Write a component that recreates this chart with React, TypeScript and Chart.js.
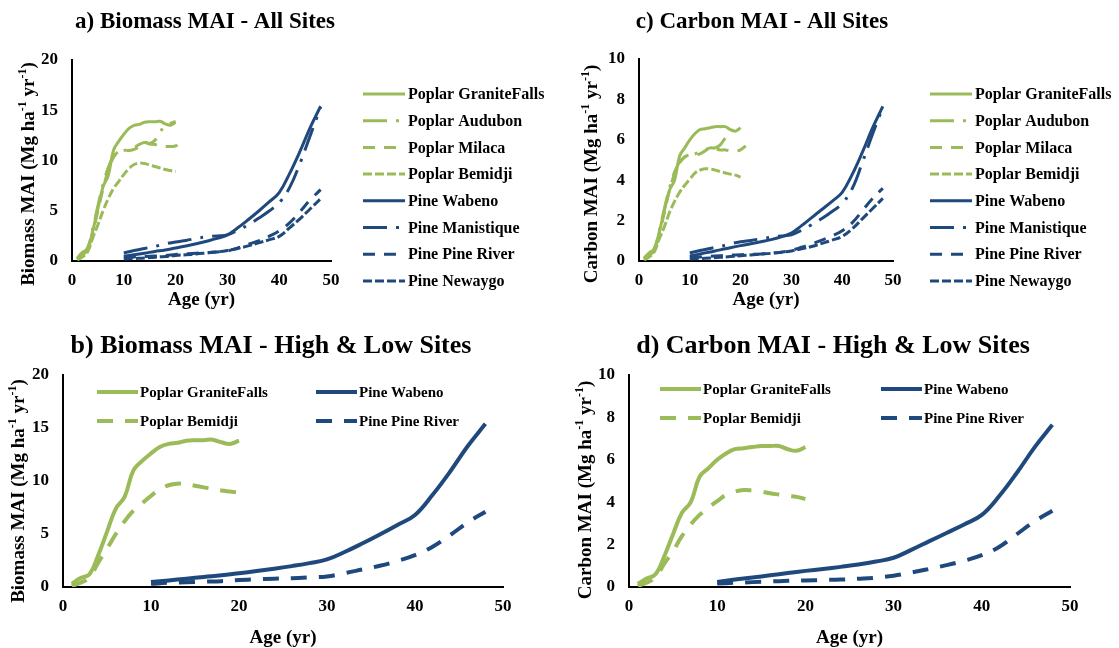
import React, { useEffect, useRef } from 'react';
import { Chart, registerables } from 'chart.js';

Chart.register(...registerables);

const GREEN = '#9BBB59';
const BLUE = '#1F497D';
const FONT = '"Liberation Serif", "Times New Roman", serif';

// ---------- data ----------
const poplarAges = [1, 2, 3, 4, 5, 6, 7, 8, 9, 10, 11, 12, 13, 14, 15, 16, 17, 18, 19, 20];
const milacaAges = [1, 2, 3, 4, 5, 6, 7, 8, 9, 10, 11, 12, 13, 14, 15, 16, 17, 18, 19, 20, 21];
const pineAges = [10, 12, 14, 16, 18, 20, 22, 24, 26, 28, 30, 32, 34, 36, 38, 40, 42, 44, 46, 48];

// Biomass MAI (Mg ha-1 yr-1)
const bioGraniteFalls = [0.3, 0.85, 1.2, 3.0, 5.2, 7.4, 8.5, 11.0, 11.9, 12.6, 13.2, 13.5, 13.6, 13.8, 13.85, 13.85, 13.9, 13.65, 13.5, 13.8];
const bioAudubon = [0.2, 0.7, 1.3, 3.2, 5.5, 7.6, 9.3, 10.4, 10.9, 11.0, 11.1, 11.3, 11.6, 11.8, 11.7, 12.0, 12.8, 13.5, 13.7, 13.9];
const bioMilaca = [0.2, 0.6, 1.1, 2.8, 5.0, 7.2, 9.0, 10.3, 10.9, 11.0, 11.0, 11.1, 11.4, 11.8, 11.65, 11.6, 11.5, 11.4, 11.4, 11.45, 11.9];
const bioBemidji = [0.1, 0.4, 0.9, 2.3, 3.6, 5.0, 6.2, 7.2, 7.9, 8.6, 9.2, 9.6, 9.75, 9.7, 9.55, 9.4, 9.25, 9.1, 9.0, 8.9];
const bioWabeno = [0.47, 0.62, 0.78, 0.95, 1.1, 1.3, 1.5, 1.72, 1.97, 2.25, 2.6, 3.3, 4.1, 4.95, 5.85, 6.8, 8.7, 10.9, 13.3, 15.4];
const bioManistique = [0.8, 1.05, 1.25, 1.45, 1.7, 1.9, 2.05, 2.25, 2.4, 2.5, 2.6, 3.05, 3.6, 4.25, 4.95, 5.8, 7.3, 9.7, 12.5, 15.3];
const bioPineRiver = [0.3, 0.4, 0.45, 0.5, 0.55, 0.65, 0.72, 0.78, 0.82, 0.9, 1.0, 1.3, 1.65, 2.0, 2.45, 3.0, 3.8, 4.9, 6.1, 7.1];
const bioNewaygo = [0.2, 0.25, 0.3, 0.38, 0.45, 0.55, 0.62, 0.7, 0.8, 0.9, 1.05, 1.25, 1.5, 1.8, 2.1, 2.45, 3.3, 4.2, 5.2, 6.2];

// Carbon MAI (Mg ha-1 yr-1)
const carGraniteFalls = [0.15, 0.4, 0.6, 1.45, 2.5, 3.5, 4.0, 5.2, 5.6, 6.0, 6.3, 6.5, 6.55, 6.6, 6.65, 6.65, 6.65, 6.5, 6.43, 6.6];
const carAudubon = [0.1, 0.3, 0.6, 1.5, 2.6, 3.6, 4.4, 4.9, 5.15, 5.25, 5.3, 5.4, 5.5, 5.6, 5.6, 5.75, 6.1, 6.4, 6.5, 6.6];
const carMilaca = [0.1, 0.3, 0.5, 1.35, 2.4, 3.5, 4.3, 4.85, 5.15, 5.25, 5.25, 5.3, 5.45, 5.6, 5.55, 5.5, 5.5, 5.45, 5.45, 5.5, 5.7];
const carBemidji = [0.05, 0.2, 0.45, 1.1, 1.7, 2.4, 2.95, 3.4, 3.75, 4.05, 4.35, 4.5, 4.57, 4.55, 4.5, 4.42, 4.36, 4.3, 4.25, 4.15];
const carWabeno = [0.24, 0.35, 0.45, 0.55, 0.66, 0.76, 0.85, 0.95, 1.06, 1.2, 1.38, 1.75, 2.15, 2.55, 2.95, 3.4, 4.3, 5.4, 6.6, 7.65];
const carManistique = [0.4, 0.52, 0.62, 0.72, 0.85, 0.95, 1.02, 1.1, 1.18, 1.24, 1.3, 1.52, 1.8, 2.1, 2.45, 2.85, 3.6, 4.9, 6.3, 7.6];
const carPineRiver = [0.16, 0.2, 0.23, 0.26, 0.29, 0.31, 0.33, 0.35, 0.39, 0.44, 0.53, 0.68, 0.85, 1.03, 1.24, 1.5, 1.9, 2.5, 3.1, 3.6];
const carNewaygo = [0.1, 0.12, 0.15, 0.18, 0.22, 0.26, 0.3, 0.34, 0.38, 0.43, 0.5, 0.6, 0.72, 0.87, 1.03, 1.22, 1.6, 2.1, 2.6, 3.1];

const siteLabels = [
  'Poplar GraniteFalls', 'Poplar Audubon', 'Poplar Milaca', 'Poplar Bemidji',
  'Pine Wabeno', 'Pine Manistique', 'Pine Pine River', 'Pine Newaygo',
];
const titles = [
  'a) Biomass MAI - All Sites', 'b) Biomass MAI - High & Low Sites',
  'c) Carbon MAI - All Sites', 'd) Carbon MAI - High & Low Sites',
];
const xAxisTitle = 'Age (yr)';

// ---------- styles ----------
type DashKind = 'solid' | 'lgDashDot' | 'dash' | 'sysDash';
function dashFor(kind: DashKind, w: number): number[] {
  if (kind === 'lgDashDot') return [8 * w, 3 * w, 1 * w, 3 * w];
  if (kind === 'dash') return [4 * w, 3 * w];
  if (kind === 'sysDash') return [3 * w, 1 * w];
  return [];
}

type Series = { label: string; ages: number[]; values: number[]; color: string; dash: DashKind };

const allBio: Series[] = [
  { label: siteLabels[0], ages: poplarAges, values: bioGraniteFalls, color: GREEN, dash: 'solid' },
  { label: siteLabels[1], ages: poplarAges, values: bioAudubon, color: GREEN, dash: 'lgDashDot' },
  { label: siteLabels[2], ages: milacaAges, values: bioMilaca, color: GREEN, dash: 'dash' },
  { label: siteLabels[3], ages: poplarAges, values: bioBemidji, color: GREEN, dash: 'sysDash' },
  { label: siteLabels[4], ages: pineAges, values: bioWabeno, color: BLUE, dash: 'solid' },
  { label: siteLabels[5], ages: pineAges, values: bioManistique, color: BLUE, dash: 'lgDashDot' },
  { label: siteLabels[6], ages: pineAges, values: bioPineRiver, color: BLUE, dash: 'dash' },
  { label: siteLabels[7], ages: pineAges, values: bioNewaygo, color: BLUE, dash: 'sysDash' },
];
const allCar: Series[] = [
  { label: siteLabels[0], ages: poplarAges, values: carGraniteFalls, color: GREEN, dash: 'solid' },
  { label: siteLabels[1], ages: poplarAges, values: carAudubon, color: GREEN, dash: 'lgDashDot' },
  { label: siteLabels[2], ages: milacaAges, values: carMilaca, color: GREEN, dash: 'dash' },
  { label: siteLabels[3], ages: poplarAges, values: carBemidji, color: GREEN, dash: 'sysDash' },
  { label: siteLabels[4], ages: pineAges, values: carWabeno, color: BLUE, dash: 'solid' },
  { label: siteLabels[5], ages: pineAges, values: carManistique, color: BLUE, dash: 'lgDashDot' },
  { label: siteLabels[6], ages: pineAges, values: carPineRiver, color: BLUE, dash: 'dash' },
  { label: siteLabels[7], ages: pineAges, values: carNewaygo, color: BLUE, dash: 'sysDash' },
];
const hlBio: Series[] = [
  { label: siteLabels[0], ages: poplarAges, values: bioGraniteFalls, color: GREEN, dash: 'solid' },
  { label: siteLabels[4], ages: pineAges, values: bioWabeno, color: BLUE, dash: 'solid' },
  { label: siteLabels[3], ages: poplarAges, values: bioBemidji, color: GREEN, dash: 'dash' },
  { label: siteLabels[6], ages: pineAges, values: bioPineRiver, color: BLUE, dash: 'dash' },
];
const hlCar: Series[] = [
  { label: siteLabels[0], ages: poplarAges, values: carGraniteFalls, color: GREEN, dash: 'solid' },
  { label: siteLabels[4], ages: pineAges, values: carWabeno, color: BLUE, dash: 'solid' },
  { label: siteLabels[3], ages: poplarAges, values: carBemidji, color: GREEN, dash: 'dash' },
  { label: siteLabels[6], ages: pineAges, values: carPineRiver, color: BLUE, dash: 'dash' },
];

type LegendItem = { idx: number; x0: number; y: number; len: number; tx: number };
type Panel = {
  key: string;
  box: { x: number; y: number; w: number; h: number };
  area: { l: number; r: number; t: number; b: number };
  yMax: number; yStep: number; yName: string;
  title: string; titleSize: number; titleX: number; titleBase: number;
  xTitleBase: number; yTitleX: number; yTitleY: number;
  series: Series[]; lw: number; legendFont: number;
  legend: LegendItem[];
};

function vertLegend(x0: number, tx: number, y0: number, dy: number): LegendItem[] {
  return siteLabels.map((_, i) => ({ idx: i, x0, y: y0 + i * dy, len: 42, tx }));
}

const panels: Panel[] = [
  {
    key: 'a', box: { x: 0, y: 0, w: 560, h: 320 }, area: { l: 72, r: 331, t: 60, b: 261 },
    yMax: 20, yStep: 5, yName: 'Biomass MAI', title: titles[0], titleSize: 23, titleX: 205, titleBase: 28,
    xTitleBase: 305, yTitleX: 28, yTitleY: 174, series: allBio, lw: 3, legendFont: 16,
    legend: vertLegend(363, 408, 94, 26.7),
  },
  {
    key: 'c', box: { x: 560, y: 0, w: 559, h: 320 }, area: { l: 639, r: 893, t: 59, b: 261 },
    yMax: 10, yStep: 2, yName: 'Carbon MAI', title: titles[2], titleSize: 23, titleX: 762, titleBase: 28,
    xTitleBase: 305, yTitleX: 591, yTitleY: 174, series: allCar, lw: 3, legendFont: 16,
    legend: vertLegend(930, 975, 94, 26.7),
  },
  {
    key: 'b', box: { x: 0, y: 320, w: 560, h: 328 }, area: { l: 63, r: 503, t: 375, b: 587 },
    yMax: 20, yStep: 5, yName: 'Biomass MAI', title: titles[1], titleSize: 26, titleX: 271, titleBase: 353,
    xTitleBase: 643, yTitleX: 18, yTitleY: 491, series: hlBio, lw: 4, legendFont: 15,
    legend: [
      { idx: 0, x0: 97, y: 392, len: 41, tx: 140 },
      { idx: 1, x0: 316, y: 392, len: 41, tx: 359 },
      { idx: 2, x0: 97, y: 421, len: 41, tx: 140 },
      { idx: 3, x0: 316, y: 421, len: 41, tx: 359 },
    ],
  },
  {
    key: 'd', box: { x: 560, y: 320, w: 559, h: 328 }, area: { l: 629, r: 1070, t: 375, b: 587 },
    yMax: 10, yStep: 2, yName: 'Carbon MAI', title: titles[3], titleSize: 26, titleX: 833, titleBase: 353,
    xTitleBase: 643, yTitleX: 585, yTitleY: 490, series: hlCar, lw: 4, legendFont: 15,
    legend: [
      { idx: 0, x0: 660, y: 389, len: 41, tx: 703 },
      { idx: 1, x0: 881, y: 389, len: 41, tx: 924 },
      { idx: 2, x0: 660, y: 418, len: 41, tx: 703 },
      { idx: 3, x0: 881, y: 418, len: 41, tx: 924 },
    ],
  },
];

const XH = 30;

function decor(p: Panel) {
  return {
    id: 'decor' + p.key,
    afterDraw(chart: any) {
      const ctx: CanvasRenderingContext2D = chart.ctx;
      const ox = p.box.x;
      const oy = p.box.y;
      ctx.save();
      ctx.fillStyle = '#000';
      ctx.textAlign = 'center';
      ctx.textBaseline = 'alphabetic';
      ctx.font = `bold ${p.titleSize}px ${FONT}`;
      ctx.fillText(p.title, p.titleX - ox, p.titleBase - oy);

      ctx.font = `bold 19px ${FONT}`;
      ctx.fillText(xAxisTitle, (p.area.l + p.area.r) / 2 - ox, p.xTitleBase - oy);

      // y-axis title with superscripts
      const big = 19;
      const sup = 12;
      const parts: [string, boolean][] = [[p.yName + ' (Mg ha', false], ['-1', true], [' yr', false], ['-1', true], [')', false]];
      let total = 0;
      const widths = parts.map(([t, s]) => {
        ctx.font = `bold ${s ? sup : big}px ${FONT}`;
        const w = ctx.measureText(t).width;
        total += w;
        return w;
      });
      ctx.save();
      ctx.translate(p.yTitleX - ox, p.yTitleY - oy);
      ctx.rotate(-Math.PI / 2);
      ctx.textAlign = 'left';
      let cx = -total / 2;
      parts.forEach(([t, s], i) => {
        ctx.font = `bold ${s ? sup : big}px ${FONT}`;
        ctx.fillText(t, cx, s ? big * 0.33 - big * 0.42 : big * 0.33);
        cx += widths[i];
      });
      ctx.restore();

      // legend
      p.legend.forEach((it) => {
        const ds = chart.data.datasets[it.idx];
        ctx.save();
        ctx.strokeStyle = ds.borderColor;
        ctx.lineWidth = p.lw;
        ctx.lineCap = 'butt';
        ctx.setLineDash(ds.borderDash || []);
        ctx.beginPath();
        ctx.moveTo(it.x0 - ox, it.y - oy);
        ctx.lineTo(it.x0 + it.len - ox, it.y - oy);
        ctx.stroke();
        ctx.restore();
        ctx.font = `bold ${p.legendFont}px ${FONT}`;
        ctx.textAlign = 'left';
        ctx.textBaseline = 'middle';
        ctx.fillStyle = '#000';
        ctx.fillText(ds.label, it.tx - ox, it.y - oy + 1);
      });
      ctx.restore();
    },
  };
}

function buildConfig(p: Panel): any {
  const left = p.area.l - p.box.x;
  const right = p.box.w - (p.area.r - p.box.x);
  const top = p.area.t - p.box.y;
  const bottom = p.box.h - (p.area.b - p.box.y) - XH;
  const tickFont = { family: FONT, size: 17, weight: 'bold' as const };
  return {
    type: 'line',
    data: {
      datasets: p.series.map((s) => ({
        label: s.label,
        data: s.ages.map((a, i) => ({ x: a, y: s.values[i] })),
        borderColor: s.color,
        backgroundColor: s.color,
        borderWidth: p.lw,
        borderDash: dashFor(s.dash, p.lw),
        borderCapStyle: 'butt',
        borderJoinStyle: 'round',
        pointRadius: 0,
        pointHoverRadius: 0,
        tension: 0.4,
        fill: false,
      })),
    },
    options: {
      responsive: false,
      maintainAspectRatio: false,
      animation: false,
      devicePixelRatio: 1,
      events: [],
      layout: { padding: { left: 0, right, top, bottom } },
      plugins: { legend: { display: false }, title: { display: false }, tooltip: { enabled: false } },
      scales: {
        x: {
          type: 'linear', min: 0, max: 50,
          grid: { display: false, drawTicks: false },
          border: { display: true, color: '#000', width: 2 },
          ticks: { stepSize: 10, font: tickFont, color: '#000', padding: 9, maxRotation: 0 },
          afterFit: (s: any) => { s.height = XH; },
        },
        y: {
          type: 'linear', min: 0, max: p.yMax,
          grid: { display: false, drawTicks: false },
          border: { display: true, color: '#000', width: 2 },
          ticks: { stepSize: p.yStep, font: tickFont, color: '#000', padding: 14 },
          afterFit: (s: any) => { s.width = left; },
        },
      },
    },
    plugins: [decor(p)],
  };
}

function PanelChart({ p }: { p: Panel }) {
  const ref = useRef<HTMLCanvasElement>(null);
  useEffect(() => {
    const chart = new Chart(ref.current as HTMLCanvasElement, buildConfig(p));
    return () => chart.destroy();
  }, [p]);
  return (
    <div style={{ position: 'absolute', left: p.box.x, top: p.box.y, width: p.box.w, height: p.box.h }}>
      <canvas ref={ref} width={p.box.w} height={p.box.h} style={{ width: p.box.w, height: p.box.h, display: 'block' }} />
    </div>
  );
}

export default function App() {
  return (
    <div style={{ position: 'fixed', left: 0, top: 0, width: 1119, height: 648, background: '#fff', overflow: 'hidden' }}>
      {panels.map((p) => <PanelChart key={p.key} p={p} />)}
    </div>
  );
}
